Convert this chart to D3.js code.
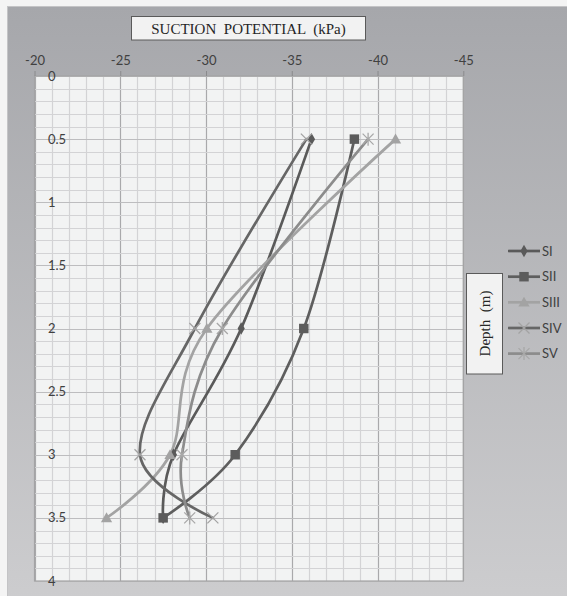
<!DOCTYPE html>
<html>
<head>
<meta charset="utf-8">
<script src="https://cdn.jsdelivr.net/npm/d3@7"></script>
<style>
  html, body { margin: 0; padding: 0; background: #f4f4f4; }
  svg { display: block; }
</style>
</head>
<body>
<svg id="chart" width="567" height="596"></svg>
<script>
// ---------- data ----------
const depths = [0.5, 2, 3, 3.5];
const seriesNames = ["SI", "SII", "SIII", "SIV", "SV"];
const SI   = [-36.15, -32.05, -28.1, -27.5];
const SII  = [-38.65, -35.7, -31.7, -27.5];
const SIII = [-41.05, -30.05, -27.9, -24.2];
const SIV  = [-35.85, -29.35, -26.15, -30.4];
const SV   = [-39.45, -30.95, -28.6, -29.05];
const xTickLabels = [-20, -25, -30, -35, -40, -45];
const yTickLabels = [0, 0.5, 1, 1.5, 2, 2.5, 3, 3.5, 4];
const titleText = "SUCTION  POTENTIAL  (kPa)";
const yTitleText = "Depth  (m)";

const svg = d3.select("#chart");
const defs = svg.append("defs");
const grad = defs.append("linearGradient").attr("id", "bg").attr("x1", 0).attr("y1", 0).attr("x2", 0).attr("y2", 1);
grad.append("stop").attr("offset", "0%").attr("stop-color", "#a6a7ab");
grad.append("stop").attr("offset", "100%").attr("stop-color", "#cdcdcf");

// outer area
svg.append("rect").attr("x", 7.5).attr("y", 6.5).attr("width", 570).attr("height", 600)
  .attr("fill", "url(#bg)").attr("stroke", "#c4c4c6").attr("stroke-width", 1);

const x = d3.scaleLinear().domain([-20, -45]).range([34.5, 463.3]);
const y = d3.scaleLinear().domain([0, 4]).range([76, 581]);

// plot area
svg.append("rect").attr("x", x(-20)).attr("y", y(0))
  .attr("width", x(-45) - x(-20)).attr("height", y(4) - y(0))
  .attr("fill", "#f2f3f3");

const g = svg.append("g");
// grid
const xMinor = d3.range(-20, -45.5, -1);
const yMinor = d3.range(0, 4.05, 0.1);
g.selectAll(".vmin").data(xMinor).join("line")
  .attr("x1", d => Math.round(x(d)) + 0.5).attr("x2", d => Math.round(x(d)) + 0.5)
  .attr("y1", y(0)).attr("y2", y(4))
  .attr("stroke", d => (Math.round(d) % 5 === 0) ? "#a9a9ab" : "#d3d3d5").attr("stroke-width", 1.2);
g.selectAll(".hmin").data(yMinor).join("line")
  .attr("y1", d => Math.round(y(d)) + 0.5).attr("y2", d => Math.round(y(d)) + 0.5)
  .attr("x1", x(-20)).attr("x2", x(-45))
  .attr("stroke", d => (Math.abs(d * 2 - Math.round(d * 2)) < 1e-6) ? "#bdbdbf" : "#d3d3d5").attr("stroke-width", 1.2);

// plot border
svg.append("rect").attr("x", x(-20)).attr("y", y(0))
  .attr("width", x(-45) - x(-20)).attr("height", y(4) - y(0))
  .attr("fill", "none").attr("stroke", "#a3a3a5").attr("stroke-width", 1.2);

// x axis (top) ticks
const xAxis = d3.axisTop(x).tickValues(xTickLabels).tickSize(5).tickPadding(6).tickFormat(d => d);
const xa = svg.append("g").attr("transform", `translate(0,${y(0)})`).call(xAxis);
xa.select(".domain").remove();
xa.selectAll(".tick line").attr("stroke", "#8a8a8c");
xa.selectAll(".tick text").attr("fill", "#404040").style("font", "13px Lato, 'Open Sans', sans-serif");

// y axis labels
const ya = svg.append("g");
ya.selectAll("text").data(yTickLabels).join("text")
  .attr("x", 48).attr("y", d => y(d)).attr("dy", "0.35em")
  .attr("fill", "#404040").style("font", "13px Lato, 'Open Sans', sans-serif")
  .text(d => d);

// series
const colors = {SI: "#5a5a5a", SII: "#5e5e5e", SIII: "#a3a3a3", SIV: "#666666", SV: "#8c8c8c"};
const markerColors = {SI: "#5a5a5a", SII: "#5c5c5c", SIII: "#a3a3a3", SIV: "#a3a3a3", SV: "#a8a8a8"};
const dataMap = {SI, SII, SIII, SIV, SV};
const line = d3.line().x(d => x(d.v)).y(d => y(d.d)).curve(d3.curveCardinal.tension(0));

function drawMarker(sel, name, cx, cy) {
  const c = markerColors[name];
  if (name === "SI") {
    sel.append("path").attr("d", d3.symbol(d3.symbolDiamond, 45)()).attr("transform", `translate(${cx},${cy})`).attr("fill", c);
  } else if (name === "SII") {
    sel.append("path").attr("d", d3.symbol(d3.symbolSquare, 90)()).attr("transform", `translate(${cx},${cy})`).attr("fill", c);
  } else if (name === "SIII") {
    sel.append("path").attr("d", d3.symbol(d3.symbolTriangle, 55)()).attr("transform", `translate(${cx},${cy + 1})`).attr("fill", c);
  } else if (name === "SIV") {
    const s = 5.5;
    sel.append("path").attr("d", `M${-s},${-s}L${s},${s}M${-s},${s}L${s},${-s}`)
      .attr("transform", `translate(${cx},${cy})`).attr("stroke", c).attr("stroke-width", 1.3).attr("fill", "none");
  } else if (name === "SV") {
    const s = 5.5;
    sel.append("path").attr("d", `M${-s},${-s}L${s},${s}M${-s},${s}L${s},${-s}M0,${-s - 1}L0,${s + 1}`)
      .attr("transform", `translate(${cx},${cy})`).attr("stroke", c).attr("stroke-width", 1.3).attr("fill", "none");
  }
}

const sg = svg.append("g");
seriesNames.forEach(name => {
  const pts = depths.map((d, i) => ({d, v: dataMap[name][i]}));
  sg.append("path").datum(pts).attr("d", line)
    .attr("fill", "none").attr("stroke", colors[name]).attr("stroke-width", 2.7)
    .attr("stroke-linejoin", "round").attr("stroke-linecap", "round");
});
seriesNames.forEach(name => {
  const mg = sg.append("g");
  depths.forEach((d, i) => drawMarker(mg, name, x(dataMap[name][i]), y(d)));
});

// title box
svg.append("rect").attr("x", 131.5).attr("y", 16.5).attr("width", 234).attr("height", 23.5)
  .attr("fill", "#f2f2f2").attr("stroke", "#5a5a5a").attr("stroke-width", 1);
svg.append("text").attr("x", 248.5).attr("y", 34).attr("text-anchor", "middle")
  .attr("fill", "#262626")
  .style("font", "15px 'Liberation Serif', 'DejaVu Serif', serif").style("white-space", "pre")
  .text(titleText);

// y title box
svg.append("rect").attr("x", 466.5).attr("y", 273.5).attr("width", 36).attr("height", 100.5)
  .attr("fill", "#f2f2f2").attr("stroke", "#5a5a5a").attr("stroke-width", 1);
svg.append("text").attr("transform", "translate(489.5,323.5) rotate(-90)").attr("text-anchor", "middle")
  .attr("fill", "#262626").style("font", "15px 'Liberation Serif', 'DejaVu Serif', serif").style("white-space", "pre")
  .text(yTitleText);

// legend
const legendY = [251, 276.7, 302.3, 328, 353.6];
const lg = svg.append("g");
seriesNames.forEach((name, i) => {
  const ly = legendY[i];
  lg.append("line").attr("x1", 508).attr("x2", 540).attr("y1", ly).attr("y2", ly)
    .attr("stroke", colors[name]).attr("stroke-width", 2.7);
  drawMarker(lg, name, 524, ly);
  lg.append("text").attr("x", 542).attr("y", ly).attr("dy", "0.35em")
    .attr("fill", "#404040").style("font", "13px Lato, 'Open Sans', sans-serif").text(name);
});
</script>
</body>
</html>
